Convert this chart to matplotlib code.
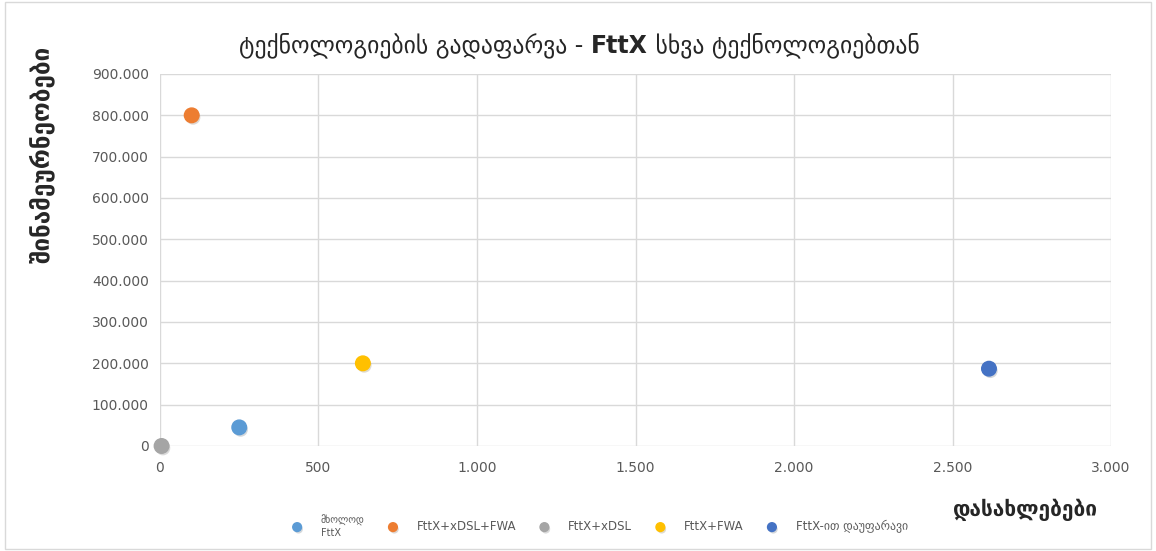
import numpy as np
import matplotlib.pyplot as plt
from matplotlib.ticker import FuncFormatter, MultipleLocator
import matplotlib.patheffects as pe

# data
series = ['მხოლოდ\nFttX', 'FttX+xDSL+FWA', 'FttX+xDSL', 'FttX+FWA', 'FttX-ით დაუფარავი']
settlements = [250, 100, 5, 640, 2615]
households = [45000, 800000, 0, 200000, 187000]
colors = ['#5B9BD5', '#ED7D31', '#A5A5A5', '#FFC000', '#4472C4']

plt.rcParams['font.family'] = ['DejaVu Sans']

fig = plt.figure(figsize=(11.56, 5.51), dpi=100)
ax = fig.add_axes([0.1384, 0.1906, 0.8227, 0.6751])


def dot_fmt(v, pos):
    return f'{int(round(v)):,}'.replace(',', '.')


for name, x, y, c in zip(series, settlements, households, colors):
    ax.scatter(x, y, s=110, color=c, label=name, zorder=3, clip_on=False,
               path_effects=[pe.SimplePatchShadow(offset=(1, -1.5), alpha=0.18),
                             pe.Normal()])

ax.set_xlim(0, 3000)
ax.set_ylim(0, 900000)
ax.xaxis.set_major_locator(MultipleLocator(500))
ax.yaxis.set_major_locator(MultipleLocator(100000))
ax.xaxis.set_major_formatter(FuncFormatter(dot_fmt))
ax.yaxis.set_major_formatter(FuncFormatter(dot_fmt))
ax.grid(True, color='#D9D9D9', linewidth=1)
ax.set_axisbelow(True)
for s in ax.spines.values():
    s.set_visible(False)
ax.tick_params(length=0, labelsize=10, labelcolor='#595959', pad=8)
ax.tick_params(axis='x', pad=11)

# title in three parts, FttX in bold
t1 = fig.text(0.207, 0.918, 'ტექნოლოგიების გადაფარვა - ', ha='left', va='center',
              fontsize=17, color='#262626')
t2 = ax.annotate('FttX', xy=(1, 0), xycoords=t1, ha='left', va='bottom',
                 fontsize=17, fontweight='bold', color='#262626')
t3 = ax.annotate(' სხვა ტექნოლოგიებთან', xy=(1, 0), xycoords=t2, ha='left', va='bottom',
                 fontsize=17, color='#262626')

fig.text(0.036, 0.72, 'შინამეურნეობები', rotation=90, ha='center', va='center',
         fontsize=17.5, fontweight='bold', color='#262626')
fig.text(0.887, 0.075, 'დასახლებები', ha='center', va='center',
         fontsize=15, fontweight='bold', color='#262626')

leg = fig.legend(loc='center', bbox_to_anchor=(0.516, 0.045), ncol=5, frameon=False,
                 fontsize=8.5, markerscale=0.6, handletextpad=1.0, columnspacing=1.4,
                 labelcolor='#595959')
leg.get_texts()[0].set_fontsize(7)

fig.patches.append(plt.Rectangle((0.004, 0.004), 0.992, 0.992, transform=fig.transFigure,
                                 fill=False, edgecolor='#D9D9D9', linewidth=1))

fig.savefig('out.png', dpi=100)
